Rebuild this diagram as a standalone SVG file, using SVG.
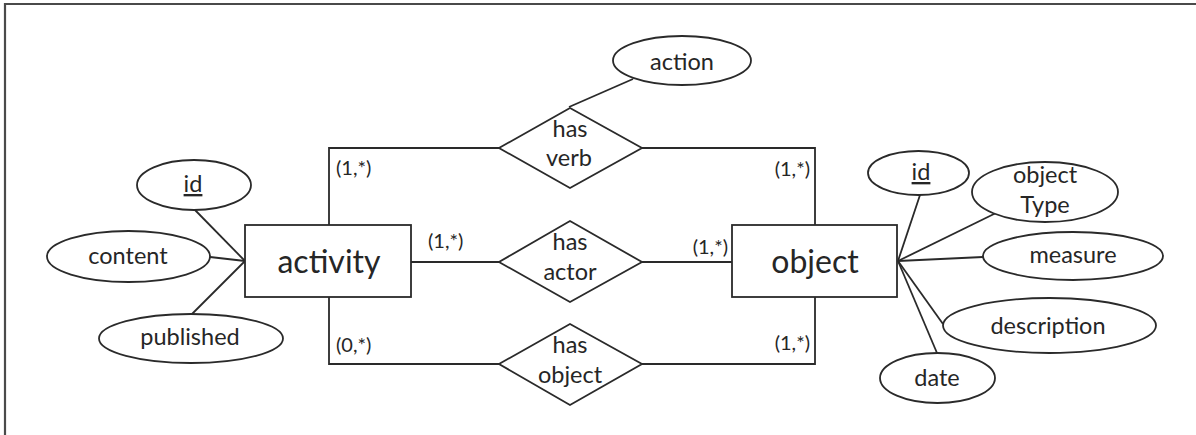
<svg xmlns="http://www.w3.org/2000/svg" width="1196" height="435" viewBox="0 0 1196 435">
<style>
.frame{fill:none;stroke:#4a4a4a;stroke-width:2.2}
.shape{fill:#fff;stroke:#2a2a2a;stroke-width:1.8}
.conn{fill:none;stroke:#2a2a2a;stroke-width:1.8}
text{font-family:Lato,"Liberation Sans",sans-serif;fill:#262626;text-anchor:middle}
.ent{font-size:32px}
.attr{font-size:23.5px}
.rel{font-size:23.5px}
.card{font-size:20px;text-anchor:start}
.cardr{font-size:20px;text-anchor:end}
</style>
<path class="frame" d="M5,436 V4 H1197"/>
<g id="connectors">
<polyline class="conn" points="329,225 329,148 499,148"/>
<polyline class="conn" points="642,148 815,148 815,225"/>
<line class="conn" x1="411" y1="262" x2="499" y2="262"/>
<line class="conn" x1="642" y1="262" x2="732" y2="262"/>
<polyline class="conn" points="329,297 329,364 499,364"/>
<polyline class="conn" points="642,364 815,364 815,297"/>
<line class="conn" x1="569" y1="107" x2="633" y2="79"/>
<line class="conn" x1="245" y1="261" x2="195" y2="210"/>
<line class="conn" x1="245" y1="261" x2="210" y2="257"/>
<line class="conn" x1="245" y1="261" x2="192" y2="314"/>
<line class="conn" x1="898" y1="261" x2="920" y2="195"/>
<line class="conn" x1="898" y1="261" x2="996" y2="213"/>
<line class="conn" x1="898" y1="261" x2="983" y2="257"/>
<line class="conn" x1="898" y1="261" x2="943" y2="324"/>
<line class="conn" x1="898" y1="261" x2="937" y2="353"/>
<text class="card" x="336" y="175">(1,*)</text>
<text class="cardr" x="810" y="176">(1,*)</text>
<text class="card" x="428" y="248">(1,*)</text>
<text class="cardr" x="728" y="254">(1,*)</text>
<text class="card" x="336" y="352">(0,*)</text>
<text class="cardr" x="810" y="350">(1,*)</text>
</g>
<g id="activity">
<rect class="shape" x="245" y="225" width="166" height="72"/>
<text class="ent" x="329" y="273">activity</text>
</g>
<g id="object">
<rect class="shape" x="732" y="225" width="165" height="72"/>
<text class="ent" x="815" y="273">object</text>
</g>
<g id="has-verb">
<polygon class="shape" points="570,108 642,148 570,188 499,148"/>
<text class="rel" x="570" y="137">has</text>
<text class="rel" x="569" y="166">verb</text>
</g>
<g id="has-actor">
<polygon class="shape" points="570,221 642,262 570,302 499,262"/>
<text class="rel" x="570" y="250">has</text>
<text class="rel" x="570" y="280">actor</text>
</g>
<g id="has-object">
<polygon class="shape" points="570,324 642,364 570,405 499,364"/>
<text class="rel" x="570" y="353">has</text>
<text class="rel" x="570" y="383">object</text>
</g>
<g id="action">
<ellipse class="shape" cx="682" cy="60.5" rx="69" ry="24.5"/>
<text class="attr" x="682" y="70">action</text>
</g>
<g id="activity-id">
<ellipse class="shape" cx="194" cy="185" rx="57" ry="25"/>
<text class="attr" x="193" y="192" text-decoration="underline">id</text>
</g>
<g id="content">
<ellipse class="shape" cx="128.5" cy="256.5" rx="81.5" ry="25.5"/>
<text class="attr" x="128" y="264">content</text>
</g>
<g id="published">
<ellipse class="shape" cx="191" cy="338.5" rx="92" ry="24.5"/>
<text class="attr" x="190" y="345">published</text>
</g>
<g id="object-id">
<ellipse class="shape" cx="918.5" cy="173" rx="50.5" ry="22"/>
<text class="attr" x="921" y="180" text-decoration="underline">id</text>
</g>
<g id="objectType">
<ellipse class="shape" cx="1045" cy="192" rx="73" ry="30"/>
<text class="attr" x="1045" y="183">object</text>
<text class="attr" x="1045" y="213">Type</text>
</g>
<g id="measure">
<ellipse class="shape" cx="1073" cy="256" rx="90" ry="24"/>
<text class="attr" x="1073" y="263">measure</text>
</g>
<g id="description">
<ellipse class="shape" cx="1049.5" cy="325.5" rx="106.5" ry="27.5"/>
<text class="attr" x="1048" y="334">description</text>
</g>
<g id="date">
<ellipse class="shape" cx="937.5" cy="378" rx="57.5" ry="25"/>
<text class="attr" x="937" y="386">date</text>
</g>
</svg>
